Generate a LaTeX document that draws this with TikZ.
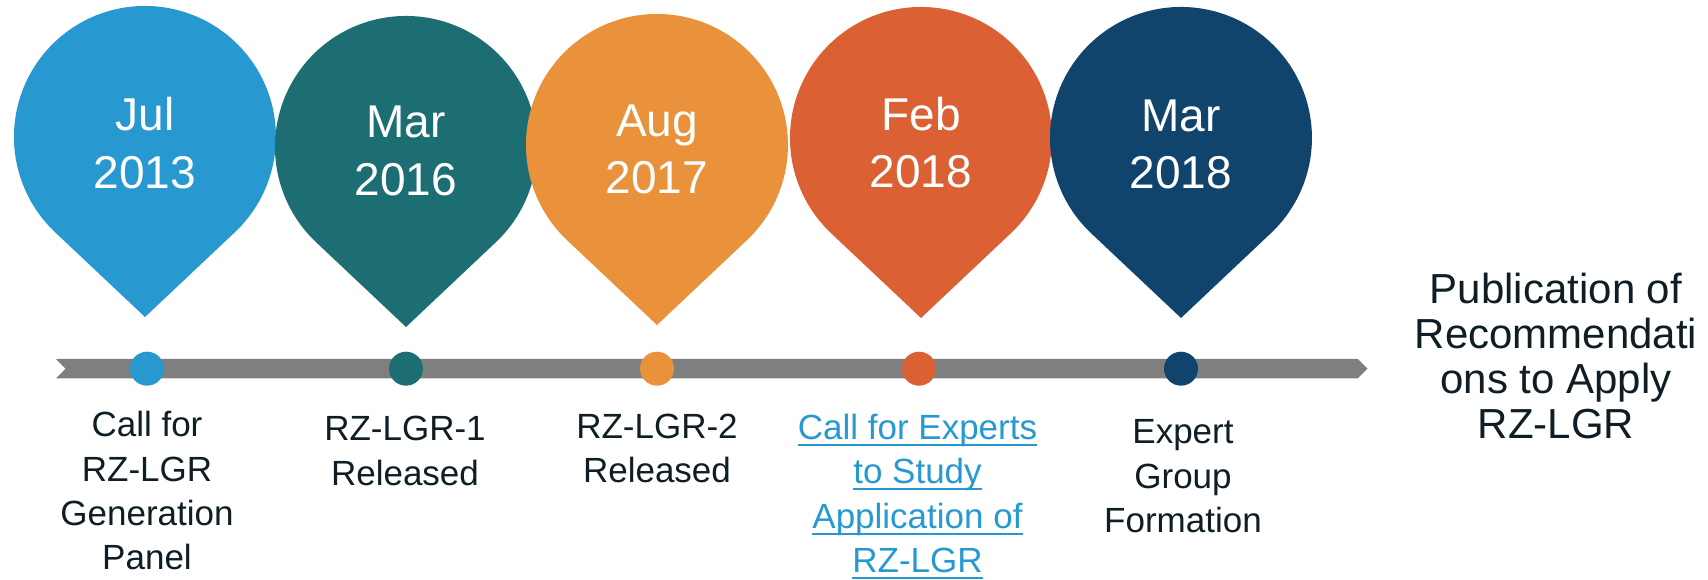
\documentclass[tikz,border=0pt]{standalone}
\usepackage{fontspec}
\setmainfont{Liberation Sans}
\definecolor{pinblue}{RGB}{40,153,208}
\definecolor{pinteal}{RGB}{29,110,115}
\definecolor{pinorange}{RGB}{233,145,59}
\definecolor{pinred}{RGB}{219,97,52}
\definecolor{pinnavy}{RGB}{17,68,108}
\definecolor{bargray}{RGB}{127,127,127}
\definecolor{textdark}{RGB}{14,30,36}
\newlength\ulwd
\newcommand{\linktext}[1]{\settowidth{\ulwd}{#1}\rlap{\rule[-6.5pt]{\ulwd}{2.2pt}}#1}
\tikzset{
  datetext/.style={text=white, align=center, anchor=base, inner sep=0pt, font=\fontsize{46}{57.5}\selectfont},
  eventtext/.style={text=textdark, align=center, anchor=base, inner sep=0pt, font=\fontsize{35}{44.4}\selectfont},
  dot/.style={circle, minimum size=34pt, inner sep=0pt},
}
\begin{document}
\begin{tikzpicture}[x=1pt,y=1pt]
  \useasboundingbox (0,0) rectangle (1708,580);
  \fill[bargray] (56,221) -- (65.5,211.3) -- (56,201.6) -- (1357.8,201.6) -- (1367.5,211.3) -- (1357.8,221) -- cycle;
  \foreach \cx/\cy/\col in {145/443/pinblue, 406/433/pinteal, 657/435/pinorange, 921/442/pinred, 1181/442/pinnavy}
    \fill[\col] (\cx,\cy-180) -- ++(89.8,84.7) arc[start angle=-46.7, end angle=226.7, radius=131pt] -- cycle;
  \node[dot, fill=pinblue] (p1) at (147,211.3) {};
  \node[dot, fill=pinteal] (p2) at (406,211.3) {};
  \node[dot, fill=pinorange] (p3) at (657,211.3) {};
  \node[dot, fill=pinred] (p4) at (919,211.3) {};
  \node[dot, fill=pinnavy] (p5) at (1181,211.3) {};
  \node[datetext] (d1) at (145,391.7) {Jul\\2013};
  \node[datetext] (d2) at (406,384.7) {Mar\\2016};
  \node[datetext] (d3) at (657,386) {Aug\\2017};
  \node[datetext] (d4) at (921,392) {Feb\\2018};
  \node[datetext] (d5) at (1181,391.3) {Mar\\2018};
  \node[eventtext] (e1) at (147,10) {Call for\\RZ-LGR\\Generation\\Panel};
  \node[eventtext] (e2) at (405,94.6) {RZ-LGR-1\\Released};
  \node[eventtext] (e3) at (657,97) {RZ-LGR-2\\Released};
  \node[eventtext, text=pinblue] (e4) at (917.5,7.3) {\linktext{Call for Experts}\\\linktext{to Study}\\\linktext{Application of}\\\linktext{RZ-LGR}};
  \node[eventtext] (e5) at (1183,47.2) {Expert\\Group\\Formation};
  \node[eventtext, font=\fontsize{42}{45}\selectfont] (e6) at (1556,141) {Publication of\\Recommendati\\ons to Apply\\RZ-LGR};
\end{tikzpicture}
\end{document}
